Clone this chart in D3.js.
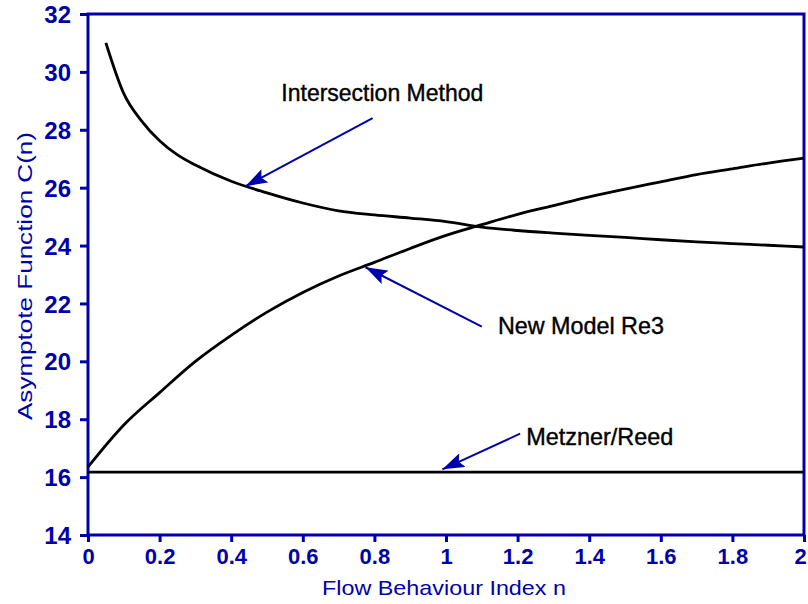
<!DOCTYPE html>
<html>
<head>
<meta charset="UTF-8">
<title>Asymptote Function C(n)</title>
<style>
  body { margin: 0; padding: 0; background: #fff; }
  svg { display: block; }
  .tick-label { fill: #0000aa; font-family: "Liberation Sans", Arial, sans-serif; font-weight: bold; }
  .axis-title { fill: #0000aa; font-family: "Liberation Sans", Arial, sans-serif; font-size: 21px; }
  .note { fill: #000; stroke: #000; stroke-width: 0.4; font-family: "Liberation Sans", Arial, sans-serif; font-size: 24px; }
</style>
</head>
<body>
<div id="chart"></div>
<script src="https://cdnjs.cloudflare.com/ajax/libs/d3/7.8.5/d3.min.js"></script>
<script>
// data
const xTicks = [0, 0.2, 0.4, 0.6, 0.8, 1, 1.2, 1.4, 1.6, 1.8, 2];
const yTicks = [14, 16, 18, 20, 22, 24, 26, 28, 30, 32];

const intersectN = [0.05, 0.1, 0.15, 0.2, 0.25, 0.3, 0.4, 0.5, 0.6, 0.7, 0.8, 0.9, 1.0,
                    1.1, 1.2, 1.3, 1.4, 1.5, 1.6, 1.7, 1.8, 1.9, 2.0];
const intersectC = [31.0, 29.25, 28.3, 27.62, 27.13, 26.78, 26.22, 25.82, 25.47, 25.2, 25.06, 24.95, 24.83,
                    24.64, 24.52, 24.43, 24.35, 24.28, 24.2, 24.13, 24.07, 24.01, 23.95];

const modelN = [0, 0.1, 0.2, 0.3, 0.4, 0.5, 0.6, 0.7, 0.8, 0.9, 1.0,
                1.1, 1.2, 1.3, 1.4, 1.5, 1.6, 1.7, 1.8, 1.9, 2.0];
const modelC = [16.35, 17.8, 18.92, 20.0, 20.9, 21.7, 22.38, 22.95, 23.42, 23.9, 24.35,
                24.72, 25.08, 25.38, 25.68, 25.95, 26.2, 26.45, 26.65, 26.85, 27.02];

const metznerN = [0, 2];
const metznerC = [16.17, 16.17];

// annotations: label, label position (data), arrow tail and tip (data)
const notes = [
  { text: "Intersection Method", n: 0.54, c: 28.98, w: 202, tail: [0.795, 28.4], tip: [0.44, 26.05] },
  { text: "New Model Re3", n: 1.145, c: 20.95, w: 166, tail: [1.1, 21.2], tip: [0.775, 23.25] },
  { text: "Metzner/Reed", n: 1.224, c: 17.1, w: 147, tail: [1.207, 17.5], tip: [0.99, 16.27] }
];

const W = 808, H = 604;
const mLeft = 88, mRight = 804, mTop = 14, mBottom = 535;

const svg = d3.select("#chart").append("svg")
  .attr("width", W).attr("height", H);

const x = d3.scaleLinear().domain([0, 2]).range([mLeft, mRight]);
const y = d3.scaleLinear().domain([14, 32]).range([mBottom, mTop]);

const blue = "#0000aa";

// frame
svg.append("rect")
  .attr("x", mLeft).attr("y", mTop)
  .attr("width", mRight - mLeft).attr("height", mBottom - mTop)
  .attr("fill", "none").attr("stroke", blue).attr("stroke-width", 3);

// axes
const yAxis = svg.append("g")
  .attr("transform", `translate(${mLeft},0)`)
  .call(d3.axisLeft(y).tickValues(yTicks).tickSize(8).tickPadding(9).tickFormat(d3.format("d")));
yAxis.select(".domain").remove();
yAxis.selectAll("line").attr("stroke", blue).attr("stroke-width", 3);
yAxis.selectAll("text").attr("class", "tick-label").attr("font-size", 24).attr("dy", "0.36em");

const xAxis = svg.append("g")
  .attr("transform", `translate(0,${mBottom})`)
  .call(d3.axisBottom(x).tickValues(xTicks).tickSize(7).tickPadding(6).tickFormat(d => String(d)));
xAxis.select(".domain").remove();
xAxis.selectAll("line").attr("stroke", blue).attr("stroke-width", 3);
xAxis.selectAll("text").attr("class", "tick-label").attr("font-size", 22)
  .attr("dx", d => d === 2 ? -4 : 0);

// axis titles
svg.append("text").attr("class", "axis-title")
  .attr("x", 444).attr("y", 595).attr("text-anchor", "middle")
  .attr("textLength", 244).attr("lengthAdjust", "spacingAndGlyphs")
  .text("Flow Behaviour Index n");

svg.append("text").attr("class", "axis-title")
  .attr("transform", "translate(32,276) rotate(-90)")
  .attr("text-anchor", "middle")
  .attr("textLength", 288).attr("lengthAdjust", "spacingAndGlyphs")
  .text("Asymptote Function C(n)");

// curves
const line = d3.line().x(d => x(d[0])).y(d => y(d[1])).curve(d3.curveMonotoneX);
const series = [
  d3.zip(intersectN, intersectC),
  d3.zip(modelN, modelC),
  d3.zip(metznerN, metznerC)
];
svg.append("g").selectAll("path")
  .data(series)
  .join("path")
  .attr("d", line)
  .attr("fill", "none")
  .attr("stroke", "#000")
  .attr("stroke-width", 2.8)
  .attr("stroke-linejoin", "round");

// arrows
svg.append("defs").append("marker")
  .attr("id", "head")
  .attr("viewBox", "0 0 22 15")
  .attr("refX", 22).attr("refY", 7.5)
  .attr("markerUnits", "userSpaceOnUse")
  .attr("markerWidth", 22).attr("markerHeight", 15)
  .attr("orient", "auto")
  .append("path")
  .attr("d", "M0,0 L22,7.5 L0,15 L4,7.5 Z")
  .attr("fill", blue);

const g = svg.append("g");
g.selectAll("line")
  .data(notes)
  .join("line")
  .attr("x1", d => x(d.tail[0])).attr("y1", d => y(d.tail[1]))
  .attr("x2", d => x(d.tip[0])).attr("y2", d => y(d.tip[1]))
  .attr("stroke", blue)
  .attr("stroke-width", 2)
  .attr("marker-end", "url(#head)");

g.selectAll("text")
  .data(notes)
  .join("text")
  .attr("class", "note")
  .attr("x", d => x(d.n)).attr("y", d => y(d.c))
  .attr("textLength", d => d.w).attr("lengthAdjust", "spacingAndGlyphs")
  .text(d => d.text);
</script>
</body>
</html>
